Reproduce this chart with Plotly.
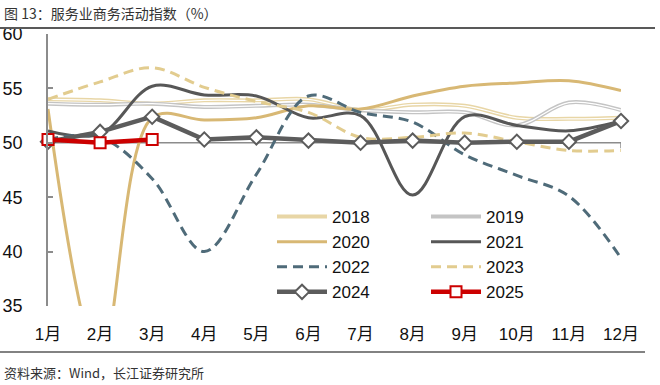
import plotly.graph_objects as go

months = ["1月", "2月", "3月", "4月", "5月", "6月", "7月", "8月", "9月", "10月", "11月", "12月"]
y2018 = [54.0, 53.9, 53.6, 53.9, 53.9, 54.0, 53.0, 53.5, 53.4, 52.3, 52.2, 52.3]
y2019 = [53.6, 53.5, 53.6, 53.3, 53.4, 53.5, 53.0, 52.8, 52.8, 51.6, 53.7, 53.0]
y2020 = [53.1, 30.1, 52.3, 52.1, 52.3, 53.4, 53.1, 54.3, 55.2, 55.5, 55.7, 54.8]
y2021 = [51.1, 50.8, 55.2, 54.4, 54.3, 52.3, 52.5, 45.2, 52.4, 51.6, 51.1, 52.0]
y2022 = [50.3, 50.5, 46.7, 40.0, 47.1, 54.3, 52.8, 51.9, 48.9, 47.0, 45.1, 39.4]
y2023 = [54.0, 55.6, 56.9, 55.1, 53.8, 52.8, 50.5, 50.5, 50.9, 50.1, 49.3, 49.3]
y2024 = [50.1, 51.0, 52.4, 50.3, 50.5, 50.2, 50.0, 50.2, 50.0, 50.1, 50.1, 52.0]
y2025 = [50.3, 50.0, 50.3]

xs = list(range(len(months)))
FONT = "Liberation Sans, Arial, Noto Sans CJK SC, sans-serif"

fig = go.Figure()

def add(name, y, color, width, dash="solid", shape="spline", legend="legend", marker=None, inner=None):
    kw = dict(x=xs[:len(y)], y=y, name=name, legend=legend,
              line=dict(color=color, width=width, dash=dash, shape=shape, smoothing=1.0),
              mode="lines")
    if marker:
        kw["mode"] = "lines+markers"
        kw["marker"] = marker
        kw["cliponaxis"] = False
    fig.add_trace(go.Scatter(**kw))
    if inner:
        fig.add_trace(go.Scatter(x=xs[:len(y)], y=y, showlegend=False, hoverinfo="skip",
                                 legend=legend, mode="lines",
                                 line=dict(color=inner, width=1.2, shape=shape, smoothing=1.0)))

add("2018", y2018, "#E8D6A6", 4, inner="#FFFFFF", legend="legend")
add("2019", y2019, "#C4C4C4", 4, inner="#FFFFFF", legend="legend2")
add("2020", y2020, "#D8B874", 3, legend="legend")
add("2021", y2021, "#575757", 3, legend="legend2")
add("2022", y2022, "#4F6B79", 3, dash="10px,6px", legend="legend")
add("2023", y2023, "#E2CC8F", 3, dash="10px,6px", legend="legend2")
add("2024", y2024, "#5C5C5C", 4.5, shape="linear", legend="legend",
    marker=dict(symbol="diamond", size=11, color="#FFFFFF", line=dict(color="#5C5C5C", width=2)))
add("2025", y2025, "#CC0000", 4.5, shape="linear", legend="legend2",
    marker=dict(symbol="square", size=11, color="#FFFFFF", line=dict(color="#CC0000", width=2)))

L, R, T, B = 48, 39, 34, 79
W, H = 660, 385
pw, ph = W - L - R, H - T - B

def px(xp):
    return (xp - L) / pw

def py(yp):
    return (H - B - yp) / ph

shapes = [
    dict(type="line", xref="x", yref="y", x0=0, x1=11, y0=50, y1=50,
         line=dict(color="#8C8C8C", width=1.5), layer="below"),
    dict(type="line", xref="x", yref="y", x0=11, x1=11, y0=50, y1=49.5,
         line=dict(color="#8C8C8C", width=1.5), layer="below"),
    dict(type="line", xref="paper", yref="paper", x0=px(0), x1=px(655), y0=py(28), y1=py(28),
         line=dict(color="#595959", width=2)),
    dict(type="line", xref="paper", yref="paper", x0=px(0), x1=px(645), y0=py(352), y1=py(352),
         line=dict(color="#595959", width=1.5)),
]

annotations = [
    dict(text="图 13：服务业商务活动指数（%）", xref="paper", yref="paper", x=px(2), y=py(13),
         xanchor="left", yanchor="middle", showarrow=False,
         font=dict(family="Noto Sans CJK SC, Liberation Sans, sans-serif", size=14, color="#333333")),
    dict(text="资料来源：Wind，长江证券研究所", xref="paper", yref="paper", x=px(2), y=py(372),
         xanchor="left", yanchor="middle", showarrow=False,
         font=dict(family="Noto Sans CJK SC, Liberation Sans, sans-serif", size=13, color="#333333")),
]

legend_common = dict(orientation="v", yanchor="top", xanchor="left", bgcolor="rgba(0,0,0,0)",
                     font=dict(family=FONT, size=17, color="#111111"), itemwidth=50,
                     tracegroupgap=0, traceorder="normal")

fig.update_layout(
    width=W, height=H, margin=dict(l=L, r=R, t=T, b=B, autoexpand=False),
    paper_bgcolor="white", plot_bgcolor="white",
    showlegend=True,
    legend=dict(x=px(272), y=py(199), **legend_common),
    legend2=dict(x=px(426), y=py(199), **legend_common),
    xaxis=dict(range=[0, 11], tickmode="array", tickvals=xs, ticktext=months,
               showgrid=False, zeroline=False, showline=False, ticks="",
               ticklabelstandoff=16, automargin=False,
               tickfont=dict(family=FONT, size=17, color="#111111")),
    yaxis=dict(range=[35, 60], tickvals=[35, 40, 45, 50, 55, 60], showgrid=False, zeroline=False,
               showline=True, linecolor="#8C8C8C", linewidth=1.5, ticks="inside", ticklen=5,
               tickcolor="#8C8C8C", tickwidth=1.5, ticklabelstandoff=20, automargin=False,
               tickfont=dict(family=FONT, size=18, color="#111111")),
    shapes=shapes, annotations=annotations,
)

fig.write_html("out.html", config={"displayModeBar": False},
               post_script="document.body.style.margin='0';document.body.style.padding='0';")
